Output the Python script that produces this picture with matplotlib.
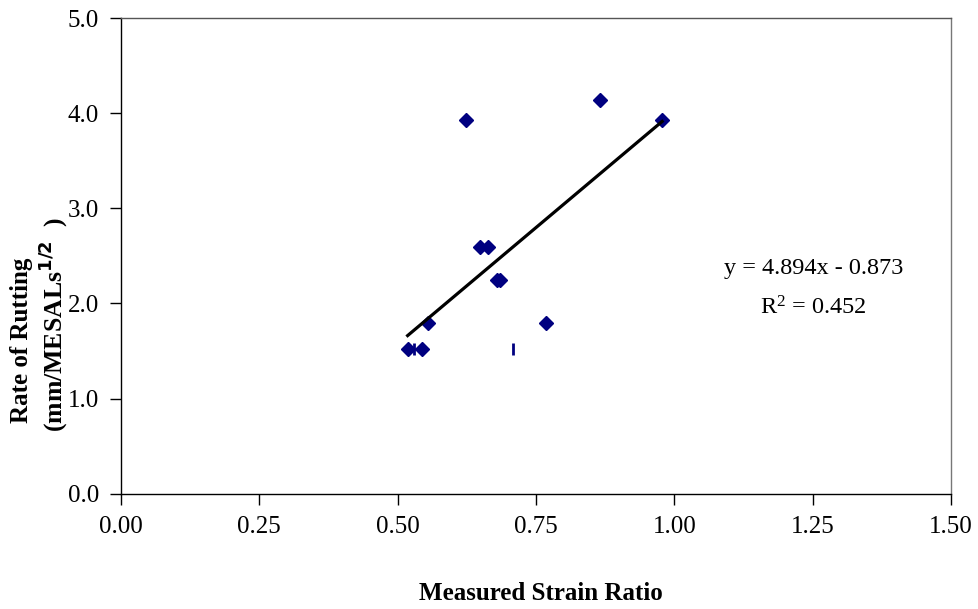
import matplotlib.pyplot as plt
import numpy as np

# measured strain ratio vs rate of rutting
strain_ratio = [0.624, 0.865, 0.978, 0.648, 0.663, 0.680, 0.685, 0.555, 0.768, 0.518, 0.544]
rut_rate = [3.93, 4.14, 3.93, 2.59, 2.59, 2.25, 2.25, 1.79, 1.79, 1.52, 1.52]

# points drawn with a bar marker
bar_x = [0.530, 0.708]
bar_y = [1.52, 1.52]

slope = 4.894
intercept = -0.873
r_squared = 0.452

x_ticks = [0.00, 0.25, 0.50, 0.75, 1.00, 1.25, 1.50]
y_ticks = [0.0, 1.0, 2.0, 3.0, 4.0, 5.0]

plt.rcParams['font.family'] = ['Liberation Serif', 'DejaVu Serif']

fig = plt.figure(figsize=(9.79, 6.09), dpi=100)
ax = fig.add_axes([0.1236, 0.1893, 0.9714 - 0.1236, 0.9704 - 0.1893])

ax.plot(strain_ratio, rut_rate, linestyle='none', marker='D', markersize=7,
        color='#000080')
ax.plot(bar_x, bar_y, linestyle='none', marker='|', markersize=9,
        markeredgewidth=2, color='#000080')

xs = np.array([min(strain_ratio), max(strain_ratio)])
ax.plot(xs, slope * xs + intercept, color='black', linewidth=2.3)

ax.set_xlim(0, 1.5)
ax.set_ylim(0, 5)
ax.set_xticks(x_ticks)
ax.set_xticklabels(['{:.2f}'.format(t) for t in x_ticks])
ax.set_yticks(y_ticks)
ax.set_yticklabels(['{:.1f}'.format(t) for t in y_ticks])
ax.tick_params(direction='out', length=8, width=1, labelsize=18, pad=8)
for sp in ax.spines.values():
    sp.set_linewidth(1)
ax.spines['top'].set_color('#555555')
ax.spines['right'].set_color('#777777')

ax.text(1.251, 2.37, 'y = {:.3f}x - {:.3f}'.format(slope, -intercept), fontsize=17.5,
        ha='center', va='center')
ax.text(1.251, 1.95, 'R$\\mathregular{^2}$ = ' + '{:.3f}'.format(r_squared),
        fontsize=17.5, ha='center', va='center')

fig.text(0.552, 0.026, 'Measured Strain Ratio', fontsize=18, fontweight='bold',
         ha='center', va='center')
fig.text(0.022, 0.442, 'Rate of Rutting', fontsize=18, fontweight='bold',
         rotation=90, ha='center', va='center')
fig.text(0.054, 0.466, '(mm/MESALs$\\mathbf{^{1/2}}$  )', fontsize=18.5,
         fontweight='bold', rotation=90, ha='center', va='center')

fig.savefig('out.png', dpi=100)
